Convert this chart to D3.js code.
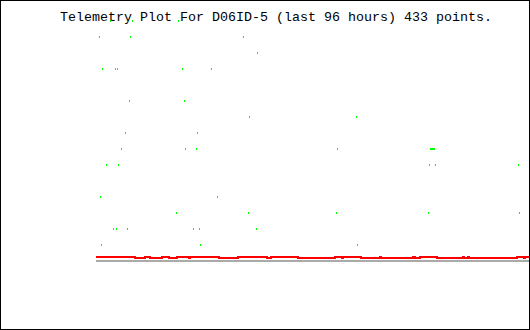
<!DOCTYPE html>
<html>
<head>
<meta charset="utf-8">
<script src="https://cdn.jsdelivr.net/npm/d3@7"></script>
<style>
  body { margin: 0; background: #fff; }
  svg { display: block; }
</style>
</head>
<body>
<div id="container"></div>
<script>
// set up variables
let width = 530,
  height = 330

let title = 'Telemetry Plot For D06ID-5 (last 96 hours) 433 points.'
let pointCount = 433

// red series, stored as the sample index where the value changes and the new value
let redStart = [0, 39, 49, 54, 66, 73, 81, 93, 94, 123, 142, 171, 175, 202, 239, 246, 247, 265, 284, 285,
  317, 319, 324, 341, 367, 368, 372, 373, 421, 428, 429]
let redVal = [4, 3, 4, 3, 4, 3, 4, 3, 4, 3, 4, 3, 4, 3, 4, 3, 4, 3, 4, 3,
  4, 3, 4, 3, 4, 3, 4, 3, 4, 3, 4]

// grey reference series sits at zero
let greyVal = 0

// green series, only the samples that land inside the plot
let greenIdx = [14, 36, 82,
  3, 34, 147,
  161,
  6, 19, 21, 86, 115,
  33, 88,
  153, 260,
  29, 101,
  25, 89, 100, 241, 334, 335, 336, 337, 338,
  10, 22, 333, 339, 422,
  4, 121,
  80, 152, 240, 332, 423,
  17, 20, 31, 97, 103, 160,
  5, 104, 261]
let greenVal = [240, 240, 240,
  224, 224, 224,
  208,
  192, 192, 192, 192, 192,
  160, 160,
  144, 144,
  128, 128,
  112, 112, 112, 112, 112, 112, 112, 112, 112,
  96, 96, 96, 96, 96,
  64, 64,
  48, 48, 48, 48, 48,
  32, 32, 32, 32, 32, 32,
  16, 16, 16]

let svg = d3.select('#container')
  .append('svg')
  .attr('width', width)
  .attr('height', height)

svg.append('rect')
  .attr('width', width)
  .attr('height', height)
  .attr('fill', '#fff')

// one pixel per sample
let x = d3.scaleLinear()
  .domain([0, pointCount])
  .range([96, 529])

let y = d3.scaleLinear()
  .domain([0, 240])
  .range([261, 21])

// green points, 1px wide and 2px tall
svg.append('g')
  .selectAll('rect')
  .data(greenIdx)
  .join('rect')
  .attr('x', d => x(d))
  .attr('y', (d, i) => y(greenVal[i]) - 1)
  .attr('width', 1)
  .attr('height', 2)
  .attr('fill', '#00ff00')
  .attr('shape-rendering', 'crispEdges')

// grey line
svg.append('line')
  .attr('x1', x(0))
  .attr('x2', x(pointCount))
  .attr('y1', y(greyVal))
  .attr('y2', y(greyVal))
  .attr('stroke', '#aaaaaa')
  .attr('stroke-width', 2)
  .attr('shape-rendering', 'crispEdges')

// red step line
let redPts = redStart.map((s, i) => [s, redVal[i]])
redPts.push([pointCount, redVal[redVal.length - 1]])

let line = d3.line()
  .x(d => x(d[0]))
  .y(d => y(d[1]))
  .curve(d3.curveStepAfter)

svg.append('path')
  .datum(redPts)
  .attr('d', line)
  .attr('fill', 'none')
  .attr('stroke', '#ff0000')
  .attr('stroke-width', 2)
  .attr('shape-rendering', 'crispEdges')

// title
svg.append('text')
  .attr('x', 60)
  .attr('y', 21)
  .attr('font-family', '"Liberation Mono", "DejaVu Sans Mono", monospace')
  .attr('font-size', 13.33)
  .attr('fill', '#000')
  .text(title)

// frame
svg.append('rect')
  .attr('x', 0.5)
  .attr('y', 0.5)
  .attr('width', width - 1)
  .attr('height', height - 1)
  .attr('fill', 'none')
  .attr('stroke', '#000')
  .attr('stroke-width', 1)
</script>
</body>
</html>
